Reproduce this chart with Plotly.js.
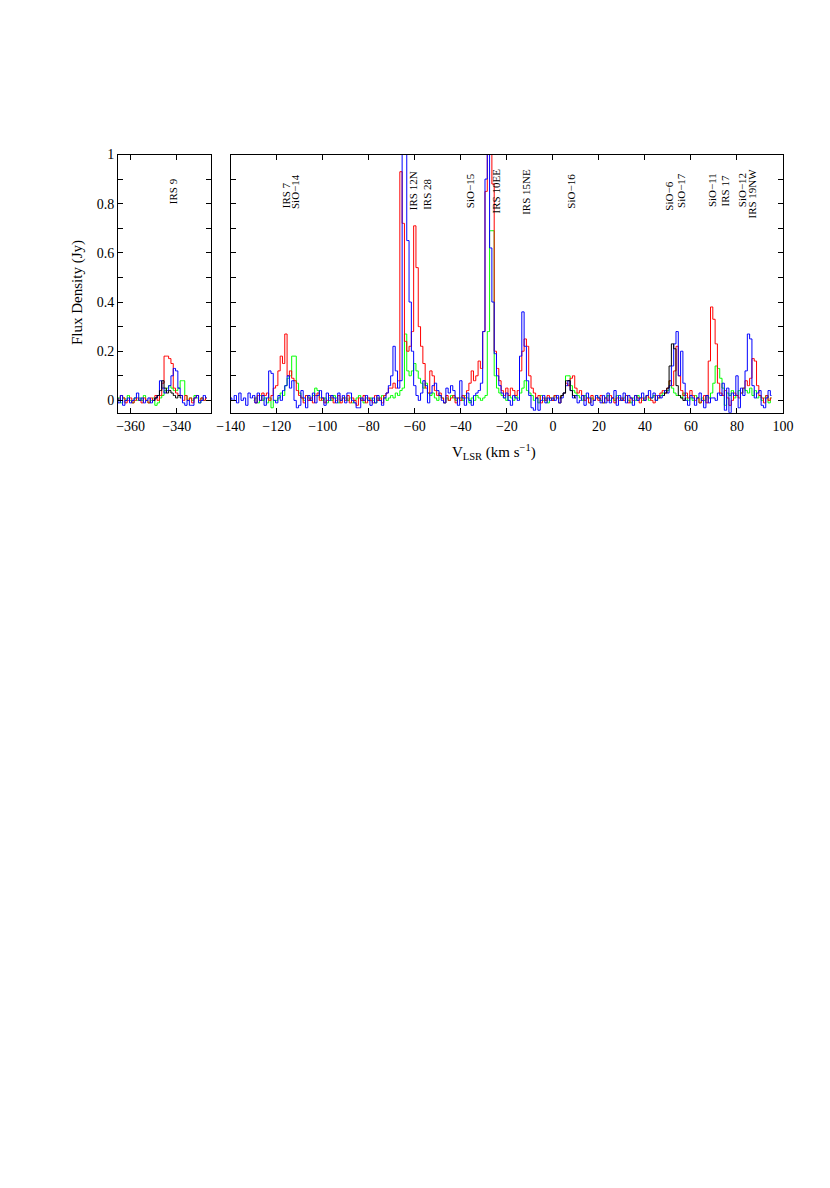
<!DOCTYPE html>
<html>
<head>
<meta charset="utf-8">
<script src="https://cdn.plot.ly/plotly-3.0.1.min.js"></script>
<style>body{margin:0;padding:0;background:#fff;}#chart{width:830px;height:1188px;}</style>
</head>
<body>
<div id="chart"></div>
<script>
// ---------- DATA ----------
// Left panel: channels start at -366 km/s, 1 km/s wide
const leftStart = -366;
const leftBlue = [
  .01,-.01,.02,-.02,.00,.01,-.01,.00,.01,.03,
  .00,.01,-.01,.00,.01,-.01,.00,.01,.02,.08,
  .05,.03,.04,.06,.10,.13,.12,.05,.02,-.01,
  -.02,.00,-.02,-.02,.01,.02,-.01,.00,.02,.01];
const leftRed = [
  .01,.00,.02,.01,-.01,.00,.01,-.01,.00,.01,
  .00,-.01,.01,.00,-.01,.01,.00,.02,.00,.02,
  .07,.18,.18,.17,.15,.05,.03,.02,.02,.00,
  .02,.00,.01,-.01,.01,.02,.00,.01,.00,.01];
const leftGreen = [
  .00,.01,-.01,.01,.00,.02,.00,-.01,.01,.00,
  .01,.00,.02,.00,-.01,.00,.01,-.02,-.01,.01,
  .02,.04,.05,.06,.05,.04,.04,.05,.08,.08,
  .02,.00,.01,.00,.02,.01,-.01,.01,.00,.01];
// black spectrum only covers a short stretch
const leftBlackStart = -350;
const leftBlack = [.00,.01,.02,.04,.08,.05,.03,.04,.03,.02,.01,.02,.01];

// Right panel: blue starts at -140, red/green at -130, 1 km/s channels, up to +95
const blueStart = -140;
const blue = [
  .01,.00,.02,-.01,.03,.00,.01,-.02,.03,.01,      // -140
  .02,-.01,.03,.00,.02,-.02,.01,.12,.11,.00,      // -130
  -.01,.02,.00,.04,.06,.10,.05,.08,.00,-.03,      // -120
  -.02,.04,.01,-.03,.02,.00,.03,-.01,.02,.04,     // -110
  .01,-.02,.03,.00,.02,.01,-.01,.03,.00,.02,      // -100
  -.01,.03,.03,.00,-.01,-.03,-.03,.01,.00,.02,    // -90
  .00,-.02,.01,-.01,.02,.00,-.02,.01,.03,.06,     // -80
  .10,.22,.12,.05,.08,1.05,1.05,.65,.40,.20,      // -70
  .06,.02,.00,.03,.08,.06,-.01,.03,.06,.07,       // -60
  .04,.02,.00,-.01,.05,.03,.06,.04,.01,-.02,      // -50
  .08,.01,-.02,.03,.00,-.02,.02,.03,.04,.07,      // -40
  .28,.90,1.05,.62,.40,.19,.10,.06,.03,.01,       // -30
  .03,.00,-.02,.02,.01,.00,.18,.36,.22,.08,       // -20
  .02,-.03,-.04,.01,-.04,.00,.02,-.01,.01,.00,    // -10
  .01,.00,.02,-.01,.01,.03,.06,.08,.04,.01,       // 0
  .02,-.01,.00,.02,-.02,.03,.01,-.02,.00,.02,     // 10
  .01,-.01,.02,-.01,.03,-.01,.01,.04,-.02,.02,    // 20
  .00,.03,-.01,.02,.01,-.02,.02,.00,.01,.03,      // 30
  .00,.02,.04,.01,.03,.00,.02,.01,.02,.04,        // 40
  .03,.06,.14,.23,.28,.10,.20,.07,.00,-.02,       // 50
  .02,.01,-.02,.01,.03,.00,-.03,.02,-.01,.01,     // 60
  .01,.00,.03,.02,.07,-.04,.05,-.05,.03,.02,      // 70
  .10,-.03,.05,.02,.12,.27,.25,.06,.01,.03,       // 80
  .04,-.02,-.03,.01,.04,.02];                     // 90

const otherStart = -130;
const red = [
  .01,-.01,.02,.00,.03,.02,.03,.00,.02,.05,       // -130
  .06,.12,.18,.15,.27,.10,.12,.09,.08,.04,        // -120
  .02,.01,-.01,.02,.00,.01,-.01,.02,.03,.00,      // -110
  .01,-.01,.00,.02,.01,-.01,.00,.02,-.01,.01,     // -100
  .00,.02,-.01,.01,.00,-.02,.01,.00,.02,-.01,     // -90
  .01,.00,-.01,.02,.00,.01,-.01,.02,.03,.05,      // -80
  .05,.07,.05,.08,.93,.72,.24,.20,.22,.28,        // -70
  .71,.54,.30,.22,.15,.05,.03,.12,.10,.04,        // -60
  .02,.03,.01,-.01,.02,.00,.01,.02,-.01,.01,      // -50
  .00,.02,.01,.04,.07,.12,.08,.10,.16,.13,        // -40
  .28,.85,1.05,1.05,.88,.20,.13,.08,.04,.02,      // -30
  .05,.02,.05,.04,.02,.04,.12,.20,.25,.22,        // -20
  .10,.05,.03,.01,.02,-.01,.01,.00,.02,.01,       // -10
  .00,.02,.01,-.01,.02,.03,.07,.06,.09,.10,       // 0
  .05,.03,.04,.02,.00,.01,-.01,.02,.00,.01,       // 10
  .00,.02,-.01,.01,.00,.02,.01,-.01,.01,.00,      // 20
  .01,.00,.02,-.01,.01,.00,.02,.01,-.01,.01,      // 30
  .00,.02,.01,.00,-.01,.02,.01,.03,.04,.03,       // 40
  .05,.08,.06,.12,.22,.10,.04,.02,.03,.01,        // 50
  .04,.02,.00,.01,-.01,.00,.02,-.01,.16,.38,      // 60
  .33,.23,.07,.03,.02,.04,.01,-.02,.00,.03,       // 70
  .02,.01,.03,.05,.08,.06,.09,.17,.16,.06,        // 80
  .02,.01,-.01,.02,.00,.01];                      // 90
const green = [
  .00,.01,-.01,.02,.00,.01,-.01,.01,-.03,.00,     // -130
  .00,.01,.03,.02,.06,.09,.10,.18,.18,.07,        // -120
  .03,.01,.00,.02,.01,.00,.02,.05,.04,.01,        // -110
  .00,.01,-.01,.01,.00,.02,.01,-.01,.00,.01,      // -100
  .01,.00,.01,-.01,.00,.01,.02,.00,-.01,.01,      // -90
  .00,.01,.00,-.01,.01,.00,.02,.01,.00,.01,       // -80
  .02,.01,.03,.02,.04,.05,.27,.12,.10,.12,        // -70
  .15,.12,.09,.07,.05,.07,.03,.02,.03,.01,        // -60
  .00,.02,.01,-.01,.01,.00,.02,.01,.00,.01,       // -50
  .01,.00,.02,.01,-.01,.01,.00,.02,.01,.00,       // -40
  .01,.02,.28,.69,.69,.10,.05,.03,.02,.01,        // -30
  .00,.02,.01,.00,.02,.01,.03,.05,.08,.04,        // -20
  .03,.02,.00,.01,-.01,.02,.00,.01,-.01,.01,      // -10
  .00,.02,.01,-.01,.02,.03,.10,.10,.06,.04,       // 0
  .03,.02,.01,.00,.02,.01,-.01,.01,.00,.02,       // 10
  .01,.00,-.01,.01,.02,.00,.01,.00,.02,.01,       // 20
  .00,.01,.02,.00,-.01,.01,.00,.02,.01,.00,       // 30
  .01,.02,.00,.01,.02,.00,.01,.02,.03,.04,        // 40
  .04,.08,.05,.03,.02,.02,.01,.03,.02,.00,        // 50
  .01,.00,.02,.01,-.01,.01,.00,.02,.01,.03,       // 60
  .07,.14,.13,.09,.05,-.02,.03,.02,.04,.01,       // 70
  .02,.04,.03,.05,.04,.03,.05,.02,.04,.01,        // 80
  .02,.00,.01,.02,-.01,.01];                      // 90
// black spectrum: short stretches only
const blackAStart = 3;
const blackA = [.01,.02,.03,.08,.08,.04,.02,.01];
const blackBStart = 48;
const blackB = [.02,.03,.05,.14,.23,.21,.06,.02,.01,.00,.01];

// Source labels (velocity, height, text)
const labelText = ['IRS 7','SiO\u221214','IRS 12N','IRS 28','SiO\u221215','IRS 10EE','IRS 15NE','SiO\u221216',
                   'SiO\u22126','SiO\u221217','SiO\u221211','IRS 17','SiO\u221212','IRS 19NW'];
const labelV = [-116.0,-112.0,-61.0,-54.8,-36.0,-24.7,-11.7,8.1,50.3,55.6,69.1,74.9,82.2,86.5];
const labelY = [0.834,0.848,0.853,0.839,0.851,0.850,0.848,0.851,0.831,0.855,0.855,0.851,0.855,0.841];
const leftLabelText = ['IRS 9'];
const leftLabelV = [-341.8];
const leftLabelY = [0.849];

const yTicks = [0, 0.2, 0.4, 0.6, 0.8, 1];
const yTickText = ['0', '0.2', '0.4', '0.6', '0.8', '1'];

// ---------- BUILD ----------
const chan = (start, n) => Array.from({length: n}, (_, i) => start + i);
const serif = 'Liberation Serif, Times New Roman, serif';

function tr(start, ys, color, xa, ya) {
  return {x: chan(start, ys.length), y: ys, type: 'scatter', mode: 'lines',
          line: {color: color, width: 1, shape: 'hvh'},
          xaxis: xa, yaxis: ya, hoverinfo: 'skip'};
}

const traces = [
  tr(leftStart, leftGreen, '#00ff00', 'x', 'y'),
  tr(leftStart, leftRed, '#ff0000', 'x', 'y'),
  tr(leftStart, leftBlue, '#0000ff', 'x', 'y'),
  tr(leftBlackStart, leftBlack, '#000000', 'x', 'y'),
  tr(otherStart, green, '#00ff00', 'x2', 'y2'),
  tr(otherStart, red, '#ff0000', 'x2', 'y2'),
  tr(blueStart, blue, '#0000ff', 'x2', 'y2'),
  tr(blackAStart, blackA, '#000000', 'x2', 'y2'),
  tr(blackBStart, blackB, '#000000', 'x2', 'y2')
];

const W = 830, H = 1188;
const yDom = [1 - 412.7 / H, 1 - 154.5 / H];
const axCommon = {
  ticks: 'inside', ticklen: 5, tickwidth: 1, tickcolor: 'black',
  showline: true, linecolor: 'black', linewidth: 1, mirror: 'ticks',
  showgrid: false, zeroline: false,
  tickfont: {family: serif, size: 14, color: 'black'}
};
const yCommon = Object.assign({}, axCommon, {
  range: [-0.05, 1], tickvals: yTicks, ticktext: yTickText,
  minor: {dtick: 0.1, ticks: 'inside', ticklen: 5, tickcolor: 'black', showgrid: false},
  domain: yDom
});

const annotations = [];
labelText.forEach((t, i) => annotations.push({
  text: t, x: labelV[i], y: labelY[i], xref: 'x2', yref: 'y2',
  showarrow: false, textangle: -90, xanchor: 'center', yanchor: 'middle',
  font: {family: serif, size: 11, color: 'black'}
}));
leftLabelText.forEach((t, i) => annotations.push({
  text: t, x: leftLabelV[i], y: leftLabelY[i], xref: 'x', yref: 'y',
  showarrow: false, textangle: -90, xanchor: 'center', yanchor: 'middle',
  font: {family: serif, size: 11, color: 'black'}
}));
annotations.push({
  text: 'Flux Density (Jy)', xref: 'paper', yref: 'paper',
  x: 77 / W, y: 1 - 293 / H, showarrow: false, textangle: -90,
  xanchor: 'center', yanchor: 'middle',
  font: {family: serif, size: 15, color: 'black'}
});
annotations.push({
  text: 'V<sub>LSR</sub> (km s<sup>\u22121</sup>)', xref: 'paper', yref: 'paper',
  x: 493.5 / W, y: 1 - 452 / H, showarrow: false,
  xanchor: 'center', yanchor: 'middle',
  font: {family: serif, size: 15, color: 'black'}
});

const layout = {
  width: W, height: H,
  margin: {l: 0, r: 0, t: 0, b: 0},
  paper_bgcolor: 'white', plot_bgcolor: 'white',
  showlegend: false,
  font: {family: serif, size: 14, color: 'black'},
  xaxis: Object.assign({}, axCommon, {
    domain: [118 / W, 211 / W], range: [-365.5, -325.1],
    tickvals: [-360, -340], anchor: 'y'
  }),
  xaxis2: Object.assign({}, axCommon, {
    domain: [230.7 / W, 783 / W], range: [-140, 100],
    tick0: -140, dtick: 20, anchor: 'y2'
  }),
  yaxis: Object.assign({}, yCommon, {anchor: 'x'}),
  yaxis2: Object.assign({}, yCommon, {anchor: 'x2', showticklabels: false}),
  annotations: annotations
};

Plotly.newPlot('chart', traces, layout, {staticPlot: true, displayModeBar: false});
</script>
</body>
</html>
